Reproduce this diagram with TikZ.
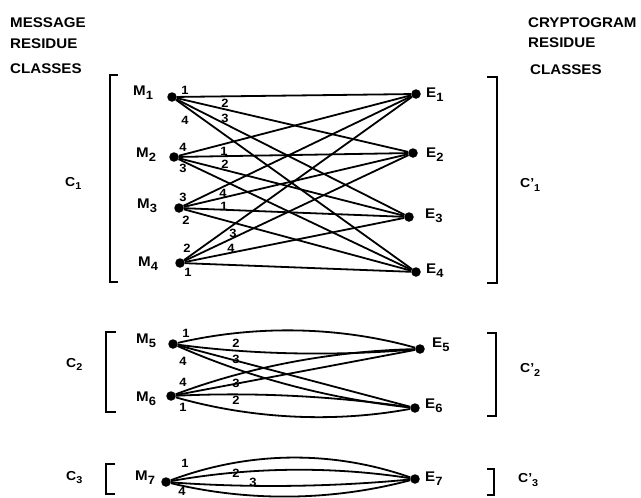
\documentclass[tikz,border=0pt]{standalone}
\usepackage{fontspec}
\setmainfont[FakeStretch=1.08]{Liberation Sans}
\newcommand\Sb[2]{#1\raisebox{-4pt}{\fontsize{12}{12}\selectfont #2}}
\newcommand\Cs[1]{C\raisebox{-3pt}{\fontsize{10}{10}\selectfont #1}}
\newcommand\Cp[1]{C’\raisebox{-4pt}{\fontsize{10}{10}\selectfont #1}}
\begin{document}
\begin{tikzpicture}[x=1pt,y=-1pt,
  dot/.style={circle,fill,inner sep=0pt,minimum size=9.5pt},
  lab/.style={font=\fontsize{14}{14}\selectfont\bfseries,inner sep=0pt},
  clab/.style={font=\fontsize{13}{13}\selectfont\bfseries,inner sep=0pt,anchor=base west},
  num/.style={font=\fontsize{12}{12}\selectfont\bfseries,inner sep=0pt},
  edge/.style={line width=1.8pt},
  brk/.style={line width=2pt}]
\useasboundingbox (0,0) rectangle (641,498);

% headings
\node[lab,anchor=base west] (h1) at (10,27) {MESSAGE};
\node[lab,anchor=base west] (h2) at (10,48) {RESIDUE};
\node[lab,anchor=base west] (h3) at (10,73) {CLASSES};
\node[lab,anchor=base west] (h4) at (528,27) {CRYPTOGRAM};
\node[lab,anchor=base west] (h5) at (528,47) {RESIDUE};
\node[lab,anchor=base west] (h6) at (530,74) {CLASSES};

% dots
\node[dot] (M1) at (172,97) {};
\node[dot] (M2) at (174,157) {};
\node[dot] (M3) at (179,208) {};
\node[dot] (M4) at (180,263) {};
\node[dot] (E1) at (416,94) {};
\node[dot] (E2) at (413,153) {};
\node[dot] (E3) at (409,217) {};
\node[dot] (E4) at (416,272) {};
\node[dot] (M5) at (173,344) {};
\node[dot] (M6) at (171,396) {};
\node[dot] (M7) at (166,482) {};
\node[dot] (E5) at (420,349) {};
\node[dot] (E6) at (415,408) {};
\node[dot] (E7) at (415,479) {};

% node labels
\node[lab,anchor=base west] (lM1) at (133,95) {\Sb{M}{1}};
\node[lab,anchor=base west] (lM2) at (136,157) {\Sb{M}{2}};
\node[lab,anchor=base west] (lM3) at (137,208) {\Sb{M}{3}};
\node[lab,anchor=base west] (lM4) at (138,266) {\Sb{M}{4}};
\node[lab,anchor=base west] (lM5) at (136,343) {\Sb{M}{5}};
\node[lab,anchor=base west] (lM6) at (136,401) {\Sb{M}{6}};
\node[lab,anchor=base west] (lM7) at (135,480) {\Sb{M}{7}};
\node[lab,anchor=base west] (lE1) at (426,97) {\Sb{E}{1}};
\node[lab,anchor=base west] (lE2) at (426,157) {\Sb{E}{2}};
\node[lab,anchor=base west] (lE3) at (425,218) {\Sb{E}{3}};
\node[lab,anchor=base west] (lE4) at (426,273) {\Sb{E}{4}};
\node[lab,anchor=base west] (lE5) at (432,347) {\Sb{E}{5}};
\node[lab,anchor=base west] (lE6) at (425,408) {\Sb{E}{6}};
\node[lab,anchor=base west] (lE7) at (425,481) {\Sb{E}{7}};

% class labels
\node[clab] (C1) at (65,186) {\Cs{1}};
\node[clab] (C2) at (66,367) {\Cs{2}};
\node[clab] (C3) at (66,480) {\Cs{3}};
\node[clab] (D1) at (520,187) {\Cp{1}};
\node[clab] (D2) at (520,372) {\Cp{2}};
\node[clab] (D3) at (518,482) {\Cp{3}};

% brackets
\draw[brk] (118,75) -- (110,75) -- (110,282) -- (118,282);
\draw[brk] (487,77) -- (497,77) -- (497,283) -- (487,283);
\draw[brk] (116,332) -- (106,332) -- (106,412) -- (116,412);
\draw[brk] (487,333) -- (496,333) -- (496,416) -- (487,416);
\draw[brk] (115,464) -- (106,464) -- (106,494) -- (115,494);
\draw[brk] (487,469) -- (494,469) -- (494,495) -- (487,495);

% class 1 edges (complete)
\foreach \m in {1,2,3,4}{\foreach \e in {1,2,3,4}{\draw[edge] (M\m) -- (E\e);}}

% class 2 edges
\draw[edge] (M5) .. controls (255,325) and (338,326) .. (E5);
\draw[edge] (M5) .. controls (255,355) and (338,356) .. (E5);
\draw[edge] (M5) -- (E6);
\draw[edge] (M5) .. controls (250,378) and (331,399) .. (E6);
\draw[edge] (M6) .. controls (251,366) and (334,351) .. (E5);
\draw[edge] (M6) -- (E5);
\draw[edge] (M6) .. controls (252,392) and (334,396) .. (E6);
\draw[edge] (M6) .. controls (252,419) and (334,423) .. (E6);

% class 3 edges
\draw[edge] (M7) .. controls (249,451) and (332,450) .. (E7);
\draw[edge] (M7) .. controls (249,467) and (332,466) .. (E7);
\draw[edge] (M7) .. controls (249,488) and (332,487) .. (E7);
\draw[edge] (M7) .. controls (249,502) and (332,501) .. (E7);

% key numbers
\node[num] (a11) at (185,90) {1};
\node[num] (a12) at (225,103) {2};
\node[num] (a13) at (225,118) {3};
\node[num] (a14) at (185,120) {4};
\node[num] (a24) at (183,147) {4};
\node[num] (a21) at (224,151) {1};
\node[num] (a22) at (225,164) {2};
\node[num] (a23) at (183,168) {3};
\node[num] (a33) at (183,197) {3};
\node[num] (a34) at (223,193) {4};
\node[num] (a31) at (224,206) {1};
\node[num] (a32) at (186,220) {2};
\node[num] (a42) at (187,248) {2};
\node[num] (a43) at (233,233) {3};
\node[num] (a44) at (231,248) {4};
\node[num] (a41) at (188,272) {1};
\node[num] (b51) at (186,333) {1};
\node[num] (b52) at (236,343) {2};
\node[num] (b53) at (236,359) {3};
\node[num] (b54) at (183,361) {4};
\node[num] (b64) at (183,382) {4};
\node[num] (b63) at (236,383) {3};
\node[num] (b62) at (236,400) {2};
\node[num] (b61) at (183,407) {1};
\node[num] (c1) at (185,463) {1};
\node[num] (c2) at (236,473) {2};
\node[num] (c3) at (253,482) {3};
\node[num] (c4) at (182,491) {4};
\end{tikzpicture}
\end{document}
